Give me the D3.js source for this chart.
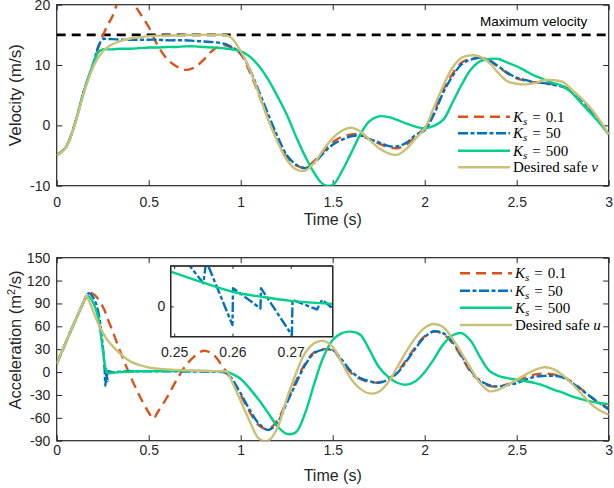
<!DOCTYPE html>
<html>
<head>
<meta charset="utf-8">
<title>Velocity and acceleration</title>
<script src="https://d3js.org/d3.v7.min.js"></script>
<style>
  body { margin: 0; background: #fff; }
  svg { display: block; font-family: "Liberation Sans", Arial, sans-serif; }
  .tick text { fill: #262626; font-size: 14px; }
  .tick line { stroke: #262626; stroke-width: 1; }
  .legend text { font-family: "Liberation Serif", "DejaVu Serif", serif; font-size: 15px; fill: #000; }
</style>
</head>
<body>
<div id="chart"></div>
<script>

  /* Velocity data (m/s) */
  const tVel = [0, 0.05, 0.1, 0.15, 0.2, 0.225, 0.25, 0.275, 0.3, 0.35, 0.4, 0.45, 0.5, 0.55, 0.6, 0.65, 0.7, 0.75, 0.8, 0.85, 0.9, 0.925, 0.95, 1.0,
    1.05, 1.1, 1.15, 1.2, 1.25, 1.3, 1.35, 1.4, 1.45, 1.5, 1.55, 1.6, 1.65, 1.7, 1.75, 1.8, 1.85, 1.9, 1.95, 2.0,
    2.05, 2.1, 2.15, 2.2, 2.25, 2.3, 2.35, 2.4, 2.45, 2.5, 2.55, 2.6, 2.65, 2.7, 2.75, 2.8, 2.85, 2.9, 2.95, 3.0];

  const velK01 = [-5, -3.6, 0.4, 5.9, 10.3, 12.8, 14.8, 16.5, 17.9, 21.1, 20.8, 18.7, 16.3, 13.2, 11.0, 9.8, 9.2, 9.6, 10.9, 12.5, 13.3, 13.2, 12.9, 11.8,
    8.8, 5.0, 1.2, -2.3, -5.2, -6.6, -7.0, -5.9, -4.3, -2.8, -1.9, -1.5, -1.5, -2.3, -3.0, -3.6, -3.8, -3.2, -1.8, -0.4,
    2.2, 5.8, 8.5, 10.4, 11.0, 11.2, 10.7, 9.7, 8.6, 7.8, 7.4, 7.1, 7.0, 6.8, 6.5, 5.7, 4.4, 2.7, 0.7, -1.5];

  const velK50 = [-5, -3.6, 0.4, 5.9, 10.3, 13.0, 14.3, 14.3, 14.3, 14.2, 14.2, 14.2, 14.2, 14.2, 14.1, 14.1, 14.1, 14.0, 13.9, 13.8, 13.6, 13.4, 13.0, 12.0,
    9.2, 5.6, 1.8, -1.8, -4.9, -6.5, -7.1, -6.2, -4.6, -3.2, -2.4, -1.8, -1.7, -2.3, -2.8, -3.4, -3.5, -2.9, -1.6, -0.8,
    1.8, 5.4, 8.1, 10.1, 10.9, 11.2, 10.8, 9.8, 8.7, 7.9, 7.5, 7.1, 7.0, 6.7, 6.4, 5.6, 4.3, 2.6, 0.7, -1.5];

  const velK500 = [-5, -3.6, 0.4, 5.9, 10.3, 12.1, 12.6, 12.6, 12.6, 12.7, 12.7, 12.8, 12.9, 12.9, 13.0, 13.0, 13.1, 13.1, 13.0, 12.9, 12.8, 12.7, 12.6, 12.3,
    11.4, 9.8, 7.6, 4.8, 1.8, -1.8, -5.1, -7.9, -9.8, -9.9, -7.6, -4.6, -1.5, 0.7, 1.5, 1.4, 0.9, 0.3, -0.2, -0.5,
    -0.1, 0.9, 3.7, 6.7, 9.2, 10.6, 11.0, 11.0, 10.4, 9.8, 9.0, 8.2, 7.6, 7.0, 6.5, 5.4, 3.7, 2.1, 0.4, -1.5];

  const velDesired = [-5, -3.7, 0.3, 5.6, 9.8, 11.2, 12.2, 12.9, 13.4, 14.0, 14.4, 14.6, 14.8, 14.85, 14.9, 14.9, 14.95, 15.0, 15.0, 15.0, 15.0, 14.9, 14.5, 12.3,
    9.2, 5.1, 0.9, -2.7, -5.7, -7.3, -7.5, -6.2, -4.0, -2.1, -0.9, -0.4, -1.0, -2.4, -3.75, -4.6, -4.9, -3.9, -2.2, -0.5,
    3.0, 6.5, 9.5, 11.2, 11.6, 11.4, 10.4, 8.7, 7.3, 6.9, 6.8, 7.0, 7.5, 7.5, 7.2, 5.9, 4.5, 2.9, 0.9, -1.5];

  const vMax = 15;

  /* Acceleration data */
  const tAcc = [0, 0.05, 0.1, 0.15, 0.16, 0.175, 0.2, 0.225, 0.25, 0.26, 0.265, 0.27, 0.275, 0.28, 0.3,
    0.35, 0.4, 0.45, 0.5, 0.525, 0.55, 0.6, 0.65, 0.7, 0.75, 0.8, 0.85, 0.9, 0.925, 0.95, 1.0,
    1.05, 1.1, 1.15, 1.2, 1.25, 1.3, 1.35, 1.4, 1.45, 1.5, 1.55, 1.6, 1.65, 1.7, 1.75, 1.8, 1.85, 1.9, 1.95, 2.0,
    2.05, 2.1, 2.15, 2.2, 2.25, 2.3, 2.35, 2.4, 2.45, 2.5, 2.55, 2.6, 2.65, 2.7, 2.75, 2.8, 2.85, 2.9, 2.95, 3.0];

  const accK01 = [11, 39, 67, 94, 99, 104, 102, 96, 86, 81, 78, 75, 71, 68, 56,
    24, -5, -31, -53, -61, -52, -33, -11, 8, 21, 28, 23, 8, -1, -10, -30,
    -53, -70, -75, -63, -38, -12, 11, 26, 30, 28, 14, -1, -9, -13, -13.5, -9, 0, 16, 33, 47,
    53, 50, 38, 20, 0, -12, -18, -19, -16, -12, -7, -3, -2, -3, -6, -13, -22, -32, -41, -47];

  const accK50 = [11, 39, 67, 94, 99, 103.5, 97, 80, 35, 5, -18, 4, -12, 1, 0,
    0.5, 1, 1, 1, 1, 1, 1, 1, 0.8, 0.6, 0.5, 0.3, 0, -2, -8, -28,
    -50, -68, -76, -66, -41, -15, 9, 25, 29.5, 29, 16, 1, -8, -12, -14, -10, -1.5, 14, 31, 46,
    53.5, 51, 40, 22, 2, -11, -17, -19, -17, -14.5, -10, -6, -5, -5, -7, -14, -23, -32, -41, -49];

  const accK500 = [11, 39, 67, 94, 99.5, 99, 90, 72, 30, 12, 5, 1, -1, -1.5, -1,
    0, 0.5, 1, 1.2, 1.3, 1.4, 1.5, 1.5, 1.5, 1.5, 1.5, 1.3, 1, 0.5, -2, -9,
    -22, -37, -54, -71, -81, -79, -54, -15, 20, 42, 51, 53, 49, 29, 7, -6, -14, -16.5, -12, 0,
    17, 36, 48, 51, 41, 20, 2, -5, -8, -10, -12, -14.5, -18, -23, -27, -32, -35.5, -38.5, -40.5, -42];

  const accDesired = [11, 39, 67, 94, 100.5, 94, 79, 64, 52, 48, 46, 44, 42, 40.5, 35,
    23, 14, 9, 6, 5, 4.5, 3.5, 2.8, 2.2, 1.8, 1.5, 1.2, 1, 0.5, -11, -38,
    -65, -87.5, -90, -73, -35, -2, 25, 38, 41, 33, 12, -9, -22, -28, -26, -14, 6, 27, 45, 58,
    63, 59, 44, 25, 5, -14, -25, -23, -17, -10, -3, 3, 6.4, 4, -4, -15, -28, -41, -50, -56];

  /* Inset (zoom on 0.25 - 0.277 s) */
  const insetBlueT = [0.2520, 0.2550, 0.2555, 0.2600, 0.2601, 0.2648, 0.2649, 0.2702, 0.2703, 0.2745, 0.2754, 0.2772];
  const insetBlue = [9.0, 4.6, 9.0, -3.7, 3.6, -0.4, 3.6, -5.7, 1.3, -0.6, 1.3, -0.4];
  const insetGreenT = [0.2494, 0.2550, 0.2600, 0.2650, 0.2700, 0.2772];
  const insetGreen = [6.9, 4.7, 2.9, 1.9, 1.1, 0.5];

  /* Ticks */
  const timeTicks = [0, 0.5, 1, 1.5, 2, 2.5, 3];
  const velTicks = [-10, 0, 10, 20];
  const accTicks = [-90, -60, -30, 0, 30, 60, 90, 120, 150];
  const insetTimeTicks = [0.25, 0.26, 0.27];
  const insetAccTicks = [0];

  const seriesNames = ['K01', 'K50', 'K500', 'Desired'];
  const seriesValues = ['0.1', '50', '500'];
  const colors = ['#D95319', '#0072BD', '#00D08A', '#C9C179'];
  const dashes = ['10,6', '10,2.5,4,2.5', null, null];

  const width = 614;
  const height = 488;
  const plotLeft = 56.7, plotRight = 608.7;
  const velBox = { top: 4.7, bottom: 185.7 };
  const accBox = { top: 257.7, bottom: 440.7 };
  const insetBox = { left: 170.7, right: 332.7, top: 266, bottom: 336.7 };

  const svg = d3.select('#chart')
    .append('svg')
    .attr('width', width)
    .attr('height', height);

  const xScale = d3.scaleLinear().domain([0, 3]).range([plotLeft, plotRight]);
  const yVel = d3.scaleLinear().domain([-10, 20]).range([velBox.bottom, velBox.top]);
  const yAcc = d3.scaleLinear().domain([-90, 150]).range([accBox.bottom, accBox.top]);
  const xIn = d3.scaleLinear().domain([0.2494, 0.2772]).range([insetBox.left, insetBox.right]);
  const yIn = d3.scaleLinear().domain([-6, 8]).range([insetBox.bottom, insetBox.top]);

  const defs = svg.append('defs');
  function clip(id, x0, y0, x1, y1) {
    defs.append('clipPath').attr('id', id)
      .append('rect').attr('x', x0).attr('y', y0).attr('width', x1 - x0).attr('height', y1 - y0);
    return 'url(#' + id + ')';
  }

  /* axes with inward ticks on all four sides, then the box */
  function frame(xs, ys, xTicks, yTicks, tickLen, xPad, yPad, fill) {
    const [x0, x1] = xs.range();
    const [y1, y0] = ys.range();
    const fmt = d => String(d);
    const g = svg.append('g');
    if (fill) {
      g.append('rect').attr('x', x0).attr('y', y0).attr('width', x1 - x0).attr('height', y1 - y0)
        .attr('fill', '#fff');
    }
    g.append('g').attr('transform', `translate(0,${y1})`)
      .call(d3.axisBottom(xs).tickValues(xTicks).tickSize(-tickLen).tickPadding(xPad).tickFormat(fmt));
    g.append('g').attr('transform', `translate(0,${y0})`)
      .call(d3.axisTop(xs).tickValues(xTicks).tickSize(-tickLen).tickFormat(''));
    g.append('g').attr('transform', `translate(${x0},0)`)
      .call(d3.axisLeft(ys).tickValues(yTicks).tickSize(-tickLen).tickPadding(yPad).tickFormat(fmt));
    g.append('g').attr('transform', `translate(${x1},0)`)
      .call(d3.axisRight(ys).tickValues(yTicks).tickSize(-tickLen).tickFormat(''));
    g.selectAll('.domain').remove();
    g.selectAll('.tick text').attr('font-family', null).attr('font-size', null);
    g.append('rect').attr('x', x0).attr('y', y0).attr('width', x1 - x0).attr('height', y1 - y0)
      .attr('fill', 'none').attr('stroke', '#262626').attr('stroke-width', 1.2);
    return g;
  }

  function drawLine(g, ts, vs, ys, xs, i, curve) {
    const pts = ts.map((t, k) => [t, vs[k]]);
    const line = d3.line().x(d => xs(d[0])).y(d => ys(d[1])).curve(curve);
    g.append('path')
      .datum(pts)
      .attr('d', line)
      .attr('fill', 'none')
      .attr('stroke', colors[i])
      .attr('stroke-width', 2.4)
      .attr('stroke-linejoin', 'round')
      .attr('stroke-dasharray', dashes[i]);
  }

  function legend(x0, rowY, lastLabel) {
    const g = svg.append('g').attr('class', 'legend');
    seriesNames.forEach((name, i) => {
      const y = rowY[i];
      g.append('line')
        .attr('x1', x0).attr('x2', x0 + 52).attr('y1', y).attr('y2', y)
        .attr('stroke', colors[i]).attr('stroke-width', 2.4)
        .attr('stroke-dasharray', dashes[i]);
      const txt = g.append('text').attr('x', x0 + 55).attr('y', y + 5);
      if (i < 3) {
        txt.append('tspan').attr('font-style', 'italic').text('K');
        txt.append('tspan').attr('font-style', 'italic').attr('font-size', 11).attr('dy', 3).text('s');
        txt.append('tspan').attr('dy', -3).attr('dx', 5).text('=');
        txt.append('tspan').attr('dx', 5).text(seriesValues[i]);
      } else {
        txt.append('tspan').text('Desired safe ');
        txt.append('tspan').attr('font-style', 'italic').text(lastLabel);
      }
    });
  }

  /* ---------- Velocity panel ---------- */
  frame(xScale, yVel, timeTicks, velTicks, 5.5, 11, 6.5, false);

  const velG = svg.append('g').attr('clip-path', clip('clipVel', plotLeft, velBox.top, plotRight, velBox.bottom));
  velG.append('line')
    .attr('x1', xScale(0)).attr('x2', xScale(3))
    .attr('y1', yVel(vMax)).attr('y2', yVel(vMax))
    .attr('stroke', '#000').attr('stroke-width', 2.6).attr('stroke-dasharray', '9,6');
  [velK01, velK50, velK500, velDesired].forEach((vs, i) => drawLine(velG, tVel, vs, yVel, xScale, i, d3.curveCatmullRom.alpha(0.5)));

  svg.append('text')
    .attr('x', 480).attr('y', 26)
    .attr('font-size', 13.5).attr('fill', '#000')
    .text('Maximum velocity');

  svg.append('text')
    .attr('transform', `translate(21,${(velBox.top + velBox.bottom) / 2}) rotate(-90)`)
    .attr('text-anchor', 'middle').attr('font-size', 17).attr('fill', '#262626')
    .text('Velocity (m/s)');

  svg.append('text')
    .attr('x', (plotLeft + plotRight) / 2).attr('y', 225)
    .attr('text-anchor', 'middle').attr('font-size', 16).attr('fill', '#262626')
    .text('Time (s)');

  legend(458, [116.7, 133.3, 150.7, 167.3], 'v');

  /* ---------- Acceleration panel ---------- */
  frame(xScale, yAcc, timeTicks, accTicks, 5.5, 4.5, 6.5, false);

  const accG = svg.append('g').attr('clip-path', clip('clipAcc', plotLeft, accBox.top, plotRight, accBox.bottom));
  [accK01, accK50, accK500, accDesired].forEach((vs, i) => drawLine(accG, tAcc, vs, yAcc, xScale, i, d3.curveCatmullRom.alpha(0.5)));

  const accLabel = svg.append('text')
    .attr('transform', 'translate(21,340) rotate(-90)')
    .attr('text-anchor', 'middle').attr('font-size', 16.5).attr('fill', '#262626');
  accLabel.append('tspan').text('Acceleration (m');
  accLabel.append('tspan').attr('font-size', 11).attr('dy', -6).text('2');
  accLabel.append('tspan').attr('dy', 6).text('/s)');

  svg.append('text')
    .attr('x', (plotLeft + plotRight) / 2).attr('y', 481)
    .attr('text-anchor', 'middle').attr('font-size', 16).attr('fill', '#262626')
    .text('Time (s)');

  legend(460, [273.3, 290.7, 307.7, 325], 'u');

  /* ---------- Inset ---------- */
  frame(xIn, yIn, insetTimeTicks, insetAccTicks, 3, 10, 5.5, true);
  const inG = svg.append('g').attr('clip-path', clip('clipIn', insetBox.left, insetBox.top, insetBox.right, insetBox.bottom));
  drawLine(inG, insetBlueT, insetBlue, yIn, xIn, 1, d3.curveLinear);
  drawLine(inG, insetGreenT, insetGreen, yIn, xIn, 2, d3.curveMonotoneX);
  // redraw the inset box on top of the lines
  svg.append('rect')
    .attr('x', insetBox.left).attr('y', insetBox.top)
    .attr('width', insetBox.right - insetBox.left).attr('height', insetBox.bottom - insetBox.top)
    .attr('fill', 'none').attr('stroke', '#262626').attr('stroke-width', 1.2);

</script>
</body>
</html>
